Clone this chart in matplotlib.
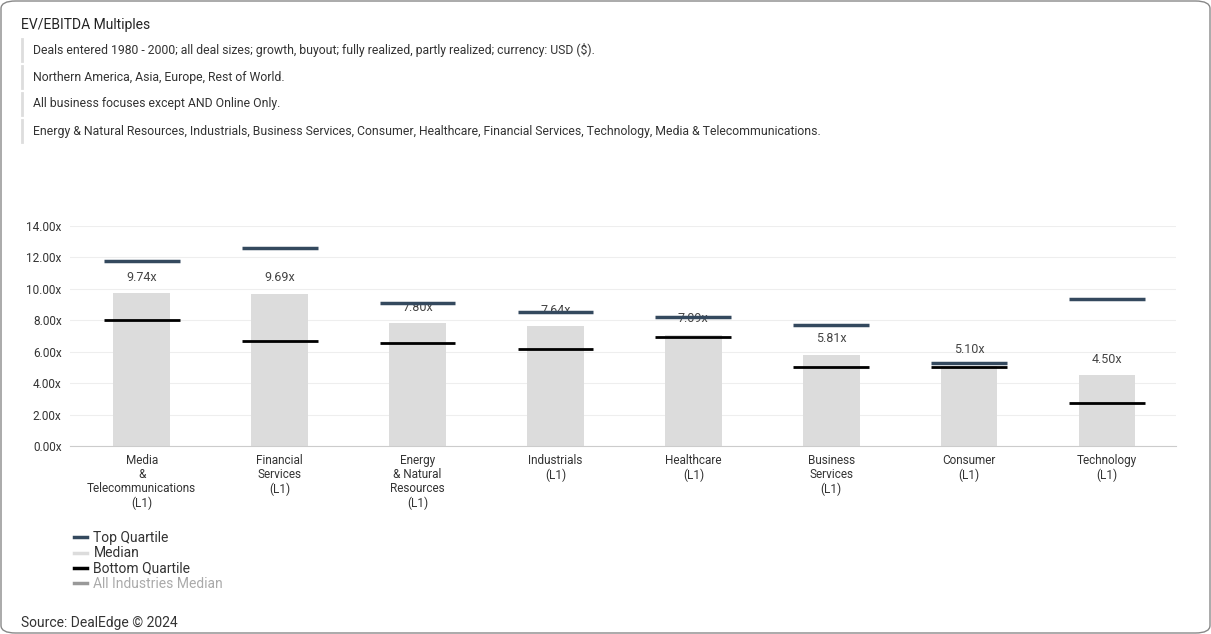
import matplotlib
matplotlib.use("Agg")
import matplotlib.pyplot as plt
from matplotlib.patches import FancyBboxPatch
from matplotlib.lines import Line2D

categories = ["Media\n&\nTelecommunications\n(L1)", "Financial\nServices\n(L1)", "Energy\n& Natural\nResources\n(L1)",
              "Industrials\n(L1)", "Healthcare\n(L1)", "Business\nServices\n(L1)", "Consumer\n(L1)", "Technology\n(L1)"]
median = [9.74, 9.69, 7.80, 7.64, 7.09, 5.81, 5.10, 4.50]
top_q = [11.78, 12.60, 9.10, 8.53, 8.20, 7.70, 5.28, 9.36]
bottom_q = [8.02, 6.68, 6.56, 6.17, 6.94, 5.03, 5.03, 2.74]
yticks = [0, 2, 4, 6, 8, 10, 12, 14]

plt.rcParams["font.family"] = "Roboto"
W, H = 1211, 634
fig = plt.figure(figsize=(W/100, H/100), dpi=100)
fig.patches.append(FancyBboxPatch((1/W, 1/H), 1-2/W, 1-2/H, boxstyle="round,pad=0,rounding_size=0.012",
                                  transform=fig.transFigure, fc="none", ec="#888888", lw=1, zorder=-1))

fig.text(21/W, 1-25/H, "EV/EBITDA Multiples", fontsize=10, color="#222222", va="center")
subs = ["Deals entered 1980 - 2000; all deal sizes; growth, buyout; fully realized, partly realized; currency: USD ($).",
        "Northern America, Asia, Europe, Rest of World.",
        "All business focuses except AND Online Only.",
        "Energy & Natural Resources, Industrials, Business Services, Consumer, Healthcare, Financial Services, Technology, Media & Telecommunications."]
for i, s in enumerate(subs):
    y = 50 + 27*i
    fig.text(33/W, 1-y/H, s, fontsize=8.8, color="#333333", va="center")
    fig.add_artist(Line2D([22/W, 22/W], [1-(y-11)/H, 1-(y+11)/H], color="#dddddd", lw=2))

ax = fig.add_axes([70/W, 1-446/H, (1176-70)/W, 220/H])
x = list(range(len(categories)))
ax.bar(x, median, width=0.41, color="#dcdcdc", zorder=2)
ax.hlines(top_q, [i-0.275 for i in x], [i+0.275 for i in x], color="#34495e", lw=2.5, zorder=3)
ax.hlines(bottom_q, [i-0.275 for i in x], [i+0.275 for i in x], color="black", lw=2, zorder=3)
for i, m in enumerate(median):
    ax.text(i, m+0.6, f"{m:.2f}x", ha="center", va="bottom", fontsize=9, color="#444444", zorder=2.5)
ax.set_xlim(-0.52, 7.5)
ax.set_ylim(0, 14)
ax.set_yticks(yticks)
ax.set_yticklabels([f"{v:.2f}x" for v in yticks], fontsize=8.5, color="#333333")
ax.set_xticks(x)
ax.set_xticklabels(categories, fontsize=8.5, color="#333333", linespacing=1.1, va="top")
ax.grid(axis="y", color="#eeeeee", lw=0.8, zorder=0)
for s in ["top", "right", "left"]:
    ax.spines[s].set_visible(False)
ax.spines["bottom"].set_color("#cccccc")
ax.tick_params(axis="both", length=0, pad=6)

handles = [Line2D([], [], color="#34495e", lw=2.5), Line2D([], [], color="#dcdcdc", lw=2.5),
           Line2D([], [], color="black", lw=2.5), Line2D([], [], color="#999999", lw=2.5)]
leg = fig.legend(handles, ["Top Quartile", "Median", "Bottom Quartile", "All Industries Median"],
                 loc="upper left", bbox_to_anchor=(74/W, 1-531/H), frameon=False, fontsize=10,
                 handlelength=0.9, handletextpad=0.5, labelspacing=0.1, borderaxespad=0, borderpad=0)
for t, c in zip(leg.get_texts(), ["#333333", "#333333", "#333333", "#aaaaaa"]):
    t.set_color(c)
fig.text(21/W, 1-623/H, "Source: DealEdge © 2024", fontsize=10, color="#333333", va="center")
fig.savefig("out.png", dpi=100)
